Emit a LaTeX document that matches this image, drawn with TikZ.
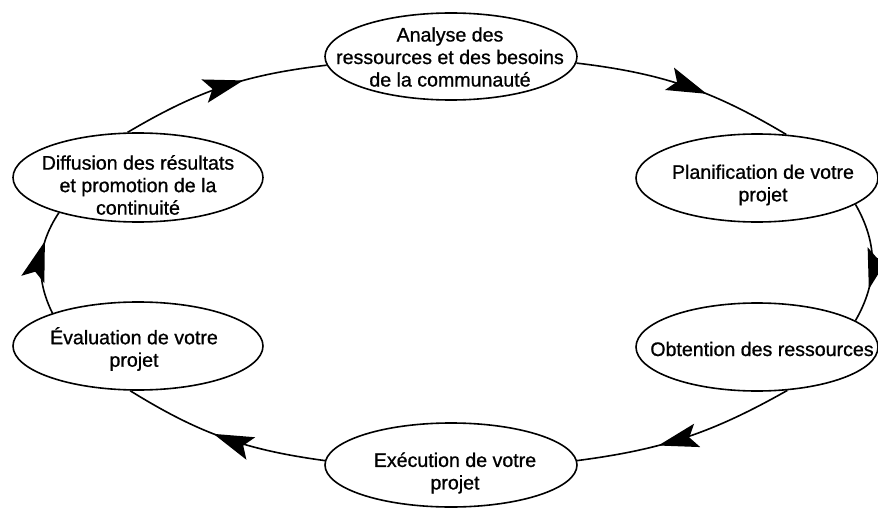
\documentclass[tikz,border=0pt]{standalone}
\usepackage{fontspec}
\setmainfont{Liberation Sans}[BoldFont=Liberation Sans, BoldFeatures={FakeBold=0.9}]
\usetikzlibrary{shapes.geometric,arrows.meta,decorations.markings}
\tikzset{
  oval/.style={ellipse, draw, line width=1.6pt, inner sep=0pt, fill=white},
  lbl/.style={align=center, inner sep=0pt, font=\fontsize{19.6}{22.5}\selectfont\bfseries},
  headtip/.tip={Stealth[length=40pt,width=24pt,inset=8pt]},
  conn/.style={line width=1.6pt, postaction={decorate},
    decoration={markings, mark=at position #1 with {\arrow{headtip}}}}
}
\begin{document}
\begin{tikzpicture}[x=1pt,y=-1pt]
\useasboundingbox (0,0) rectangle (878,508);
% ellipses
\node[oval, minimum width=252pt, minimum height=87pt] (T) at (451,56.5) {};
\node[oval, minimum width=242pt, minimum height=88pt] (P) at (757,178) {};
\node[oval, minimum width=242pt, minimum height=88pt] (O) at (757,347) {};
\node[oval, minimum width=252pt, minimum height=84pt] (X) at (451,465) {};
\node[oval, minimum width=250pt, minimum height=88pt] (E) at (138,346) {};
\node[oval, minimum width=250pt, minimum height=89pt] (D) at (138,177.5) {};
% labels
\node[lbl] (Tt) at (450,57) {Analyse des\\ressources et des besoins\\de la communauté};
\node[lbl] (Pt) at (763,185) {Planification de votre\\projet};
\node[lbl] (Ot) at (762,349) {Obtention des ressources};
\node[lbl] (Xt) at (455,473) {Exécution de votre\\projet};
\node[lbl] (Et) at (134,349) {Évaluation de votre\\projet};
\node[lbl] (Dt) at (138,185) {Diffusion des résultats\\et promotion de la\\continuité};
% connectors
\draw[conn=0.6] (T.-3) to[bend left=12] (P.56);
\draw[conn=0.72] (P.-15) to[bend left=30] (O.15);
\draw[conn=0.63] (O.-55) to[bend left=11] (X.2);
\draw[conn=0.55] (X.178) to[bend left=12] (E.-100);
\draw[conn=0.7] (E.159) to[bend left=30] (D.-156);
\draw[conn=0.6] (D.103) to[bend left=12] (T.184);
\end{tikzpicture}
\end{document}
